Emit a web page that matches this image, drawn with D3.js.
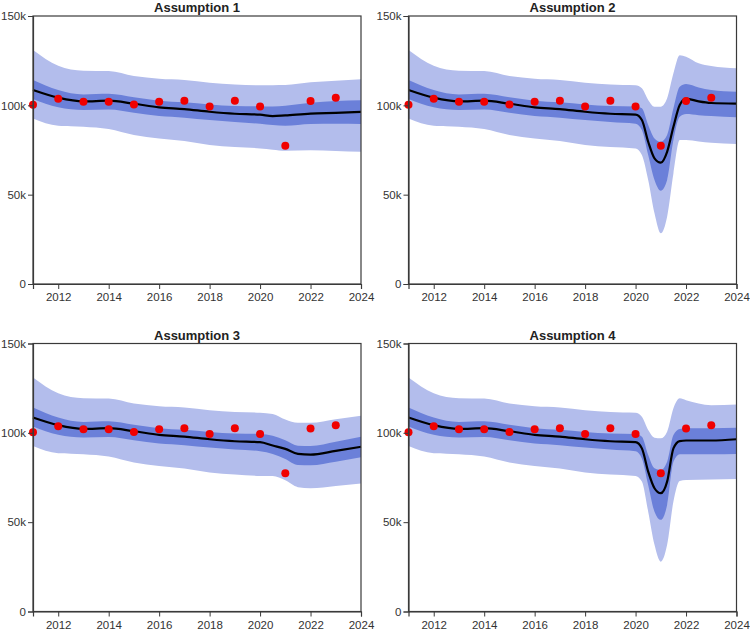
<!DOCTYPE html>
<html>
<head>
<meta charset="utf-8">
<script src="https://cdn.jsdelivr.net/npm/d3@7"></script>
<style>
  body { margin: 0; background: #fff; }
  svg { font-family: "Liberation Sans", Arial, sans-serif; }
</style>
</head>
<body>
<div id="chart"></div>
<script>
// observed counts (red dots)
const obsYears = [2011, 2012, 2013, 2014, 2015, 2016, 2017, 2018, 2019, 2020, 2021, 2022, 2023];
const observed = [100.3, 103.7, 102.0, 102.0, 100.5, 102.0, 102.6, 99.4, 102.6, 99.4, 77.4, 102.4, 104.3];

// common fit 2011-2020 (thousands)
const baseT = [2011, 2012, 2013, 2014, 2015, 2016, 2017, 2018, 2019, 2020];
const baseMid = [108.6, 104.3, 102.2, 102.6, 100.9, 98.9, 97.9, 96.4, 95.3, 94.8];
const baseHi50 = [114.2, 108.6, 106.1, 106.5, 104.5, 102.6, 101.7, 100.5, 99.6, 99.4];
const baseLo50 = [103.5, 98.9, 97.4, 97.7, 95.9, 94.0, 93.1, 91.8, 90.7, 89.7];
const baseHi95 = [131.0, 122.2, 119.4, 119.2, 116.4, 114.9, 114.2, 112.7, 111.7, 111.2];
const baseLo95 = [92.7, 88.6, 88.0, 86.7, 83.4, 81.5, 80.0, 77.8, 76.7, 75.9];

// assumption 1 tail
const a1T = [2020.5, 2021, 2022, 2023, 2024];
const a1Mid = [94.0, 94.4, 95.4, 95.8, 96.3];
const a1Hi50 = [99.3, 99.8, 101.5, 102.4, 102.8];
const a1Lo50 = [89.0, 88.6, 89.6, 89.7, 89.6];
const a1Hi95 = [111.3, 111.4, 112.9, 113.7, 114.6];
const a1Lo95 = [75.2, 74.6, 74.8, 74.5, 74.0];

// assumption 2 tail
const a2T = [2020.25, 2020.5, 2020.75, 2021, 2021.25, 2021.5, 2021.75, 2022, 2022.5, 2023, 2024];
const a2Mid = [91.8, 79.6, 70.3, 67.9, 74.0, 88.0, 100.2, 103.8, 102.2, 101.3, 101.0];
const a2Hi50 = [98.3, 89.0, 81.5, 79.6, 83.4, 98.3, 110.4, 111.9, 110.0, 108.6, 107.6];
const a2Lo50 = [86.2, 72.2, 58.2, 52.2, 58.2, 80.6, 93.6, 95.1, 94.5, 94.0, 93.3];
const a2Hi95 = [109.5, 103.0, 99.2, 99.2, 103.9, 117.9, 128.1, 127.2, 123.5, 122.0, 120.7];
const a2Lo95 = [72.2, 58.2, 39.6, 28.4, 37.7, 61.9, 80.6, 80.6, 79.8, 79.1, 78.3];

// assumption 3 tail
const a3T = [2020.5, 2021, 2021.5, 2022, 2023, 2024];
const a3Mid = [92.9, 91.0, 88.2, 87.8, 89.9, 92.2];
const a3Hi50 = [98.4, 95.8, 92.8, 92.6, 95.0, 97.8];
const a3Lo50 = [88.2, 85.4, 82.0, 81.8, 83.8, 86.3];
const a3Hi95 = [110.6, 107.4, 105.6, 105.6, 107.6, 109.6];
const a3Lo95 = [75.8, 73.4, 69.6, 69.0, 70.3, 71.6];

// assumption 4 tail
const a4T = [2020.25, 2020.5, 2020.75, 2021, 2021.25, 2021.5, 2021.75, 2022, 2023, 2024];
const a4Mid = [91.3, 78.3, 69.0, 66.2, 72.7, 91.3, 95.4, 95.7, 95.7, 96.4];
const a4Hi50 = [97.8, 87.6, 80.2, 79.2, 83.8, 98.8, 102.1, 102.5, 102.6, 102.8];
const a4Lo50 = [85.7, 70.8, 55.9, 51.3, 59.6, 83.8, 88.0, 88.0, 88.0, 88.2];
const a4Hi95 = [109.0, 101.6, 97.3, 96.9, 100.6, 113.7, 119.3, 118.3, 115.5, 115.9];
const a4Lo95 = [72.7, 55.9, 37.3, 27.9, 37.3, 61.5, 73.1, 73.6, 73.9, 74.2];

const titles = ['Assumption 1', 'Assumption 2', 'Assumption 3', 'Assumption 4'];
const xTicks = [2012, 2014, 2016, 2018, 2020, 2022, 2024];
const yTicks = [0, 50, 100, 150];
const yTickLabels = ['0', '50k', '100k', '150k'];

const tails = [
  [a1T, a1Mid, a1Hi50, a1Lo50, a1Hi95, a1Lo95],
  [a2T, a2Mid, a2Hi50, a2Lo50, a2Hi95, a2Lo95],
  [a3T, a3Mid, a3Hi50, a3Lo50, a3Hi95, a3Lo95],
  [a4T, a4Mid, a4Hi50, a4Lo50, a4Hi95, a4Lo95]
];

function buildRows(tail) {
  const t = baseT.concat(tail[0]);
  const mid = baseMid.concat(tail[1]);
  const hi50 = baseHi50.concat(tail[2]);
  const lo50 = baseLo50.concat(tail[3]);
  const hi95 = baseHi95.concat(tail[4]);
  const lo95 = baseLo95.concat(tail[5]);
  return t.map((v, i) => ({ t: v, mid: mid[i], hi50: hi50[i], lo50: lo50[i], hi95: hi95[i], lo95: lo95[i] }));
}

const W = 750, H = 633;
const svg = d3.select('#chart').append('svg').attr('width', W).attr('height', H);

const panelW = 328, panelH = 268;
const origins = [[33, 16], [408.5, 16], [33, 343.5], [408.5, 343.5]];

const x = d3.scaleLinear().domain([2011, 2024]).range([0, panelW]);
const y = d3.scaleLinear().domain([0, 150]).range([panelH, 0]);

const curve = d3.curveMonotoneX;
const area95 = d3.area().curve(curve).x(d => x(d.t)).y0(d => y(d.lo95)).y1(d => y(d.hi95));
const area50 = d3.area().curve(curve).x(d => x(d.t)).y0(d => y(d.lo50)).y1(d => y(d.hi50));
const midLine = d3.line().curve(curve).x(d => x(d.t)).y(d => y(d.mid));

const obsRows = obsYears.map((yr, i) => ({ t: yr, v: observed[i] }));

tails.forEach((tail, k) => {
  const rows = buildRows(tail);
  const g = svg.append('g').attr('transform', `translate(${origins[k][0]},${origins[k][1]})`);

  g.append('path').datum(rows).attr('d', area95).attr('fill', '#b3bdec');
  g.append('path').datum(rows).attr('d', area50).attr('fill', '#6b80d9');
  g.append('path').datum(rows).attr('d', midLine)
    .attr('fill', 'none').attr('stroke', '#000').attr('stroke-width', 2.2);

  g.selectAll('circle').data(obsRows).join('circle')
    .attr('cx', d => x(d.t)).attr('cy', d => y(d.v)).attr('r', 4)
    .attr('fill', '#f00000');

  // frame
  g.append('rect').attr('width', panelW).attr('height', panelH)
    .attr('fill', 'none').attr('stroke', '#3a3a3a').attr('stroke-width', 1.2);

  const xAxis = g.append('g').attr('transform', `translate(0,${panelH})`)
    .call(d3.axisBottom(x).tickValues(xTicks).tickFormat(d3.format('d')).tickSize(5).tickPadding(4));
  const yAxis = g.append('g')
    .call(d3.axisLeft(y).tickValues(yTicks).tickFormat((d, i) => yTickLabels[i]).tickSize(5).tickPadding(2));
  [xAxis, yAxis].forEach(a => {
    a.select('.domain').attr('stroke', '#3a3a3a').attr('stroke-width', 1.2);
    a.selectAll('line').attr('stroke', '#3a3a3a');
    a.selectAll('text').attr('fill', '#333').style('font-size', '11.5px');
  });

  g.append('text').attr('x', panelW / 2).attr('y', -4)
    .attr('text-anchor', 'middle').attr('fill', '#222')
    .style('font-size', '13px').style('font-weight', 'bold')
    .text(titles[k]);
});
</script>
</body>
</html>
